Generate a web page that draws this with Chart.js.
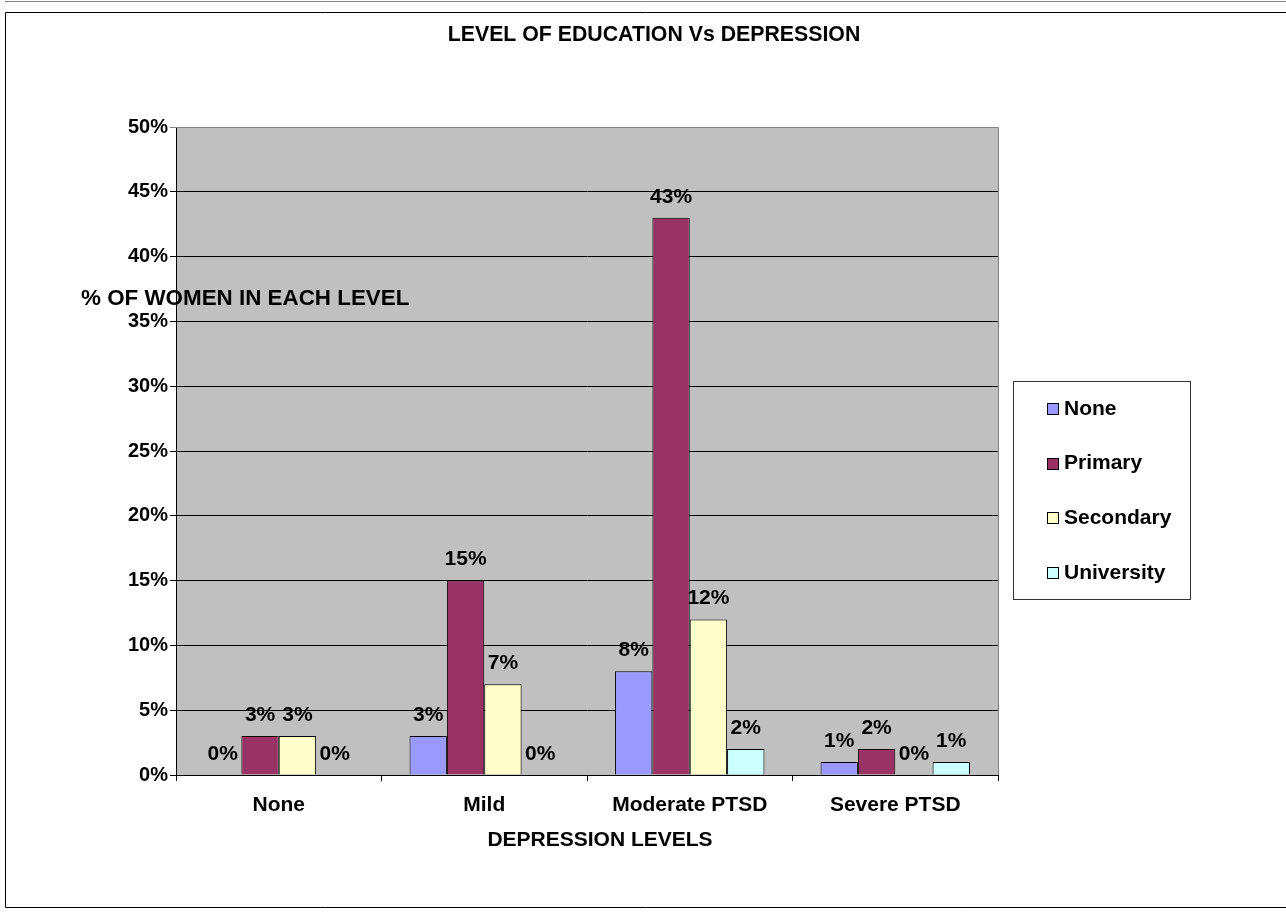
<!DOCTYPE html>
<html>
<head>
<meta charset="utf-8">
<script src="https://cdn.jsdelivr.net/npm/chart.js@4/dist/chart.umd.min.js"></script>
<style>
  body { margin:0; background:#fff; }
  canvas { display:block; }
</style>
</head>
<body>
<canvas id="eduChart" width="1286" height="913"></canvas>
<script>
// Data
const categories = ['None', 'Mild', 'Moderate PTSD', 'Severe PTSD'];
const seriesNames = ['None', 'Primary', 'Secondary', 'University'];
const noneVals = [0, 3, 8, 1];
const primaryVals = [3, 15, 43, 2];
const secondaryVals = [3, 7, 12, 0];
const universityVals = [0, 0, 2, 1];
const yTicks = [0, 5, 10, 15, 20, 25, 30, 35, 40, 45, 50];

const colors = ['#9999FF', '#993366', '#FFFFCC', '#CCFFFF'];
const FONT = '"Liberation Sans", Arial, sans-serif';

// Background, frame, titles, legend, value labels
const decor = {
  id: 'decor',
  beforeDraw(chart){
    const {ctx, chartArea:a} = chart;
    ctx.save();
    ctx.fillStyle = '#C0C0C0';
    ctx.fillRect(a.left, a.top, a.right - a.left, a.bottom - a.top);
    ctx.restore();
  },
  afterDatasetsDraw(chart){
    const ctx = chart.ctx;
    ctx.save();
    ctx.font = 'bold 21px ' + FONT;
    ctx.fillStyle = '#000';
    ctx.textAlign = 'center';
    ctx.textBaseline = 'middle';
    chart.data.datasets.forEach((ds, i) => {
      chart.getDatasetMeta(i).data.forEach((el, j) => {
        ctx.fillText(ds.data[j] + '%', el.x, el.y - 21);
      });
    });
    ctx.restore();
  },
  afterDraw(chart){
    const {ctx, chartArea:a} = chart;
    ctx.save();
    // plot top/right edge
    ctx.strokeStyle = '#808080';
    ctx.lineWidth = 1;
    ctx.beginPath();
    ctx.moveTo(a.left, a.top + 0.5); ctx.lineTo(a.right + 0.5, a.top + 0.5);
    ctx.lineTo(a.right + 0.5, a.bottom);
    ctx.stroke();
    // outer frame
    ctx.beginPath();
    ctx.moveTo(5, 1.5); ctx.lineTo(1286, 1.5);
    ctx.stroke();
    ctx.strokeStyle = '#000';
    ctx.beginPath();
    ctx.moveTo(1286, 12.5); ctx.lineTo(5.5, 12.5); ctx.lineTo(5.5, 907.5); ctx.lineTo(1286, 907.5);
    ctx.stroke();

    ctx.fillStyle = '#000';
    ctx.textBaseline = 'middle';
    ctx.textAlign = 'center';
    ctx.font = 'bold 21.3px ' + FONT;
    ctx.fillText('LEVEL OF EDUCATION Vs DEPRESSION', 654, 35);
    ctx.font = 'bold 21px ' + FONT;
    ctx.fillText('DEPRESSION LEVELS', 600, 840);
    ctx.textAlign = 'left';
    ctx.font = 'bold 22.4px ' + FONT;
    ctx.fillText('% OF WOMEN IN EACH LEVEL', 81, 299);

    // legend
    ctx.strokeStyle = '#333';
    ctx.strokeRect(1013.5, 381.5, 177, 218);
    ctx.font = 'bold 21px ' + FONT;
    chart.data.datasets.forEach((ds, i) => {
      const cy = 408 + i * 54.6;
      ctx.fillStyle = ds.backgroundColor;
      ctx.fillRect(1047, Math.round(cy) - 5, 11, 11);
      ctx.strokeStyle = '#000';
      ctx.strokeRect(1047.5, Math.round(cy) - 4.5, 11, 11);
      ctx.fillStyle = '#000';
      ctx.fillText(ds.label, 1064, cy + 1);
    });
    ctx.restore();
  }
};

const dataSets = [noneVals, primaryVals, secondaryVals, universityVals].map((vals, i) => ({
  label: seriesNames[i],
  data: vals,
  backgroundColor: colors[i],
  borderColor: '#000',
  borderWidth: 1,
  categoryPercentage: 0.727,
  barPercentage: 1.0
}));

new Chart(document.getElementById('eduChart').getContext('2d'), {
  type: 'bar',
  data: { labels: categories, datasets: dataSets },
  plugins: [decor],
  options: {
    responsive: false,
    animation: false,
    layout: { padding: { top: 127, right: 288, left: 0, bottom: 0 } },
    plugins: { legend: { display: false }, tooltip: { enabled: false }, title: { display: false } },
    scales: {
      x: {
        afterFit: s => { s.height = 138; },
        grid: { drawOnChartArea: false, drawTicks: true, tickLength: 6, color: '#000', offset: true },
        border: { display: true, color: '#000', width: 1 },
        ticks: { color: '#000', padding: 12, font: { family: FONT, size: 21, weight: 'bold' } }
      },
      y: {
        min: 0, max: 50,
        afterFit: s => { s.width = 176; },
        afterBuildTicks: s => { s.ticks = yTicks.map(v => ({ value: v })); },
        grid: {
          color: c => c.tick && c.tick.value === 50 ? '#808080' : '#000',
          lineWidth: 1, tickLength: 6
        },
        border: { display: true, color: '#000', width: 1 },
        ticks: { color: '#000', padding: 2, font: { family: FONT, size: 20, weight: 'bold' },
                 callback: v => v + '%' }
      }
    }
  }
});
</script>
</body>
</html>
